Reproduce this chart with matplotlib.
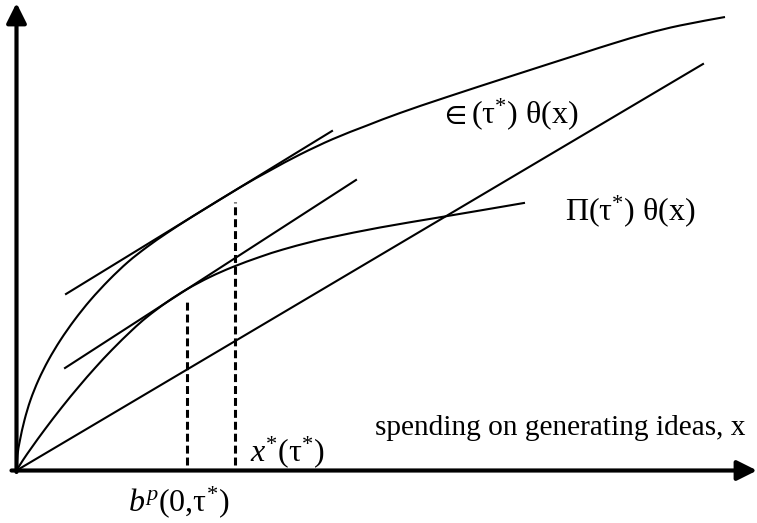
import matplotlib
matplotlib.use("Agg")
import matplotlib.pyplot as plt
from matplotlib.path import Path
from matplotlib.patches import PathPatch

plt.rcParams['font.family'] = ['Liberation Serif', 'DejaVu Serif']
plt.rcParams['mathtext.fontset'] = 'custom'
plt.rcParams['mathtext.rm'] = 'Liberation Serif'
plt.rcParams['mathtext.it'] = 'Liberation Serif:italic'
plt.rcParams['mathtext.bf'] = 'Liberation Serif:bold'
plt.rcParams['mathtext.fallback'] = 'stix'

# ---- data (chart units: origin at the axes corner, y upward) ----
upper_x = [0, 1, 3.5, 8, 14, 22, 32, 44, 58, 74, 92.5, 111.5, 130.5, 150.5, 170.5,
           184.5, 223.5, 253.5, 283.5, 316.5, 350.5, 383.5, 430.5, 496.5, 563.5,
           596.5, 630.5, 663.5, 708.5]
upper_y = [0, 15.5, 30.5, 50.5, 70.5, 90.5, 110.5, 130.5, 150.5, 170.5, 190.5, 208.5,
           223.5, 237.5, 250.5, 259.3, 283.1, 300, 316, 331.5, 345, 357.5, 373.5, 395,
           416.5, 427, 437, 445, 453.5]

lower_x = [0, 6.5, 15.5, 28.5, 45.5, 62.5, 78.5, 95.5, 115.5, 130.5, 150.5, 170.5,
           193.5, 216.5, 243.5, 266.5, 293.5, 316.5, 363.5, 421.5, 463.5, 508.5]
lower_y = [0, 10.4, 23.4, 41.3, 63.4, 84.1, 102.5, 120.7, 140.3, 153.5, 168.5, 181.3,
           193.5, 203.6, 213.6, 221, 228.3, 233.6, 243, 252.9, 260, 267.7]

ray_x = [0, 686.5]
ray_y = [0, 406.5]

tan_upper_x = [49.5, 315.5]
tan_upper_y = [176.5, 339.5]
tan_lower_x = [48.5, 339.5]
tan_lower_y = [102.5, 290.5]

dash_x = [170.5, 218.5]
dash_top = [171.5, 268.5]
dash_bottom = 5.5

labels = [r"$\in(\mathrm{\tau}^{*})\ \mathrm{\theta(x)}$",
          r"$\Pi(\mathrm{\tau}^{*})\ \mathrm{\theta(x)}$",
          "spending on generating ideas, x",
          r"$x^{*}(\mathrm{\tau}^{*})$",
          r"$b^{p}(0{,}\mathrm{\tau}^{*})$"]
label_pos = [(423.5, 347.5), (548.5, 250.5), (358.5, 35.5), (233.5, 9.5), (111.5, -41)]
label_size = [23, 23, 21.2, 23, 23]

# ---- figure ----
fig = plt.figure(figsize=(7.57, 5.23), dpi=100)
ax = fig.add_axes([0, 0, 1, 1])
ax.set_xlim(-16.5, 740.5)
ax.set_ylim(-52.5, 470.5)
ax.axis('off')

lw = 1.5


def smooth_curve(xs, ys):
    """Smooth path through the read points (Catmull-Rom rendered as cubic Beziers)."""
    pts = list(zip(xs, ys))
    n = len(pts)
    verts = [pts[0]]
    codes = [Path.MOVETO]
    for i in range(n - 1):
        p0 = pts[i - 1] if i > 0 else pts[i]
        p1 = pts[i]
        p2 = pts[i + 1]
        p3 = pts[i + 2] if i + 2 < n else pts[i + 1]
        c1 = (p1[0] + (p2[0] - p0[0]) / 6, p1[1] + (p2[1] - p0[1]) / 6)
        c2 = (p2[0] - (p3[0] - p1[0]) / 6, p2[1] - (p3[1] - p1[1]) / 6)
        verts += [c1, c2, p2]
        codes += [Path.CURVE4] * 3
    return PathPatch(Path(verts, codes), facecolor='none', edgecolor='black', lw=lw)


ax.add_patch(smooth_curve(upper_x, upper_y))
ax.add_patch(smooth_curve(lower_x, lower_y))
ax.plot(ray_x, ray_y, color='black', lw=lw)
ax.plot(tan_upper_x, tan_upper_y, color='black', lw=lw)
ax.plot(tan_lower_x, tan_lower_y, color='black', lw=lw)
for xd, top in zip(dash_x, dash_top):
    ax.plot([xd, xd], [dash_bottom, top], color='black', lw=2.2,
            linestyle=(0, (2.6, 1.3)), dash_capstyle='butt')

arrow = dict(arrowstyle='-|>,head_length=0.6,head_width=0.3', lw=3, color='black',
             shrinkA=0, shrinkB=0, mutation_scale=20)
ax.annotate('', xy=(740.5, 0), xytext=(-5, 0), arrowprops=arrow)
ax.annotate('', xy=(0, 467.5), xytext=(0, -1.5), arrowprops=arrow)

for txt, (x, y), s in zip(labels, label_pos, label_size):
    ax.text(x, y, txt, fontsize=s, ha='left', va='baseline', color='black')

fig.savefig('out.png', dpi=100)
